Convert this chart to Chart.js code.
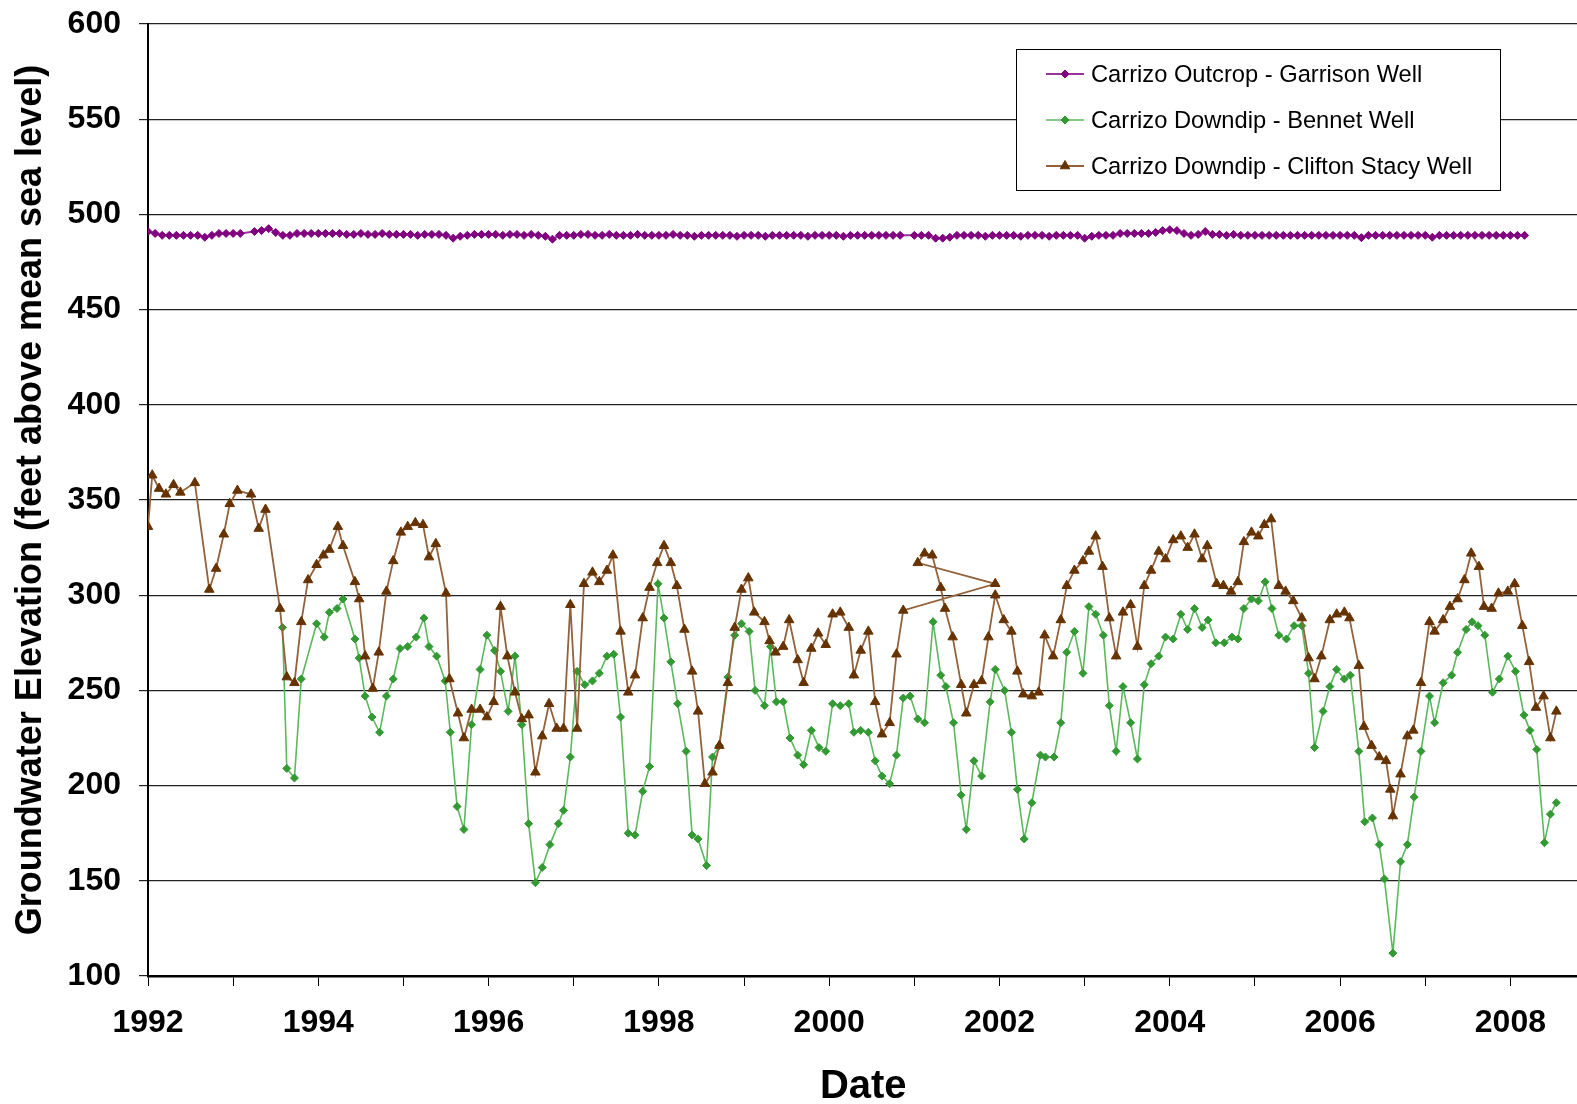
<!DOCTYPE html>
<html>
<head>
<meta charset="utf-8">
<script src="https://cdn.jsdelivr.net/npm/chart.js@4.4.0/dist/chart.umd.min.js"></script>
<style>
  html, body { margin: 0; padding: 0; background: #fff; overflow: hidden; }
  #wrap { width: 1585px; height: 1104px; position: relative; }
  canvas { display: block; }
</style>
</head>
<body>
<div id="wrap"><canvas id="chart"></canvas></div>
<script>
// Carrizo Outcrop - Garrison Well: monthly readings from Jan 1992 (null = missing month)
const garrisonStart = 1992;
const garrisonLevels = [
  491, 490, 489, 489, 489, 489, 489, 489, 488, 489, 490, 490,
  490, 490, null, 491, 491.5, 492.5, 490.5, 489, 489, 490, 490, 490,
  490, 490, 490, 490, 489.5, 489.5, 490, 489.5, 489.5, 490, 489.5, 489.5,
  489.5, 489.5, 489, 489.5, 489.5, 489.5, 489, 487.5, 488.5, 489, 489.5, 489.5,
  489.5, 489.5, 489, 489.5, 489.5, 489, 489.5, 489, 488.5, 487, 489, 489,
  489, 489.5, 489.5, 489, 489, 489.5, 489, 489, 489, 489.5, 489, 489,
  489, 489, 489.5, 489, 489, 488.5, 489, 489, 489, 489, 489, 488.5,
  489, 489, 489, 488.5, 489, 489, 489, 489, 489, 488.5, 489, 489,
  489, 489, 488.5, 489, 489, 489, 489, 489, 489, 489, 489, null,
  489, 489, 489, 487.5, 487.5, 488, 489, 489, 489, 489, 488.5, 489,
  489, 489, 489, 488.5, 489, 489, 489, 488.5, 489, 489, 489, 489,
  487.5, 488.5, 489, 489, 489, 490, 490, 490, 490, 490, 490.5, 491.5,
  492, 491.5, 490, 489, 489.5, 491, 489.5, 489.5, 489, 489.5, 489, 489,
  489, 489, 489, 489, 489, 489, 489, 489, 489, 489, 489, 489,
  489, 489, 489, 487.8, 489, 489, 489, 489, 489, 489, 489, 489,
  489, 488, 489, 489, 489, 489, 489, 489, 489, 489, 489, 489,
  489, 489, 489
];

// Carrizo Downdip - Bennet Well
const bennetDates = [
  1993.58, 1993.63, 1993.72, 1993.80, 1993.98, 1994.07, 1994.13, 1994.22, 1994.29, 1994.43,
  1994.48, 1994.55, 1994.63, 1994.72, 1994.80, 1994.88, 1994.96, 1995.05, 1995.15, 1995.24,
  1995.30, 1995.39, 1995.49, 1995.55, 1995.63, 1995.71, 1995.80, 1995.90, 1995.98, 1996.07,
  1996.14, 1996.23, 1996.31, 1996.39, 1996.47, 1996.55, 1996.63, 1996.72, 1996.82, 1996.88,
  1996.96, 1997.04, 1997.13, 1997.22, 1997.30, 1997.39, 1997.47, 1997.55, 1997.64, 1997.72,
  1997.81, 1997.89, 1997.99, 1998.06, 1998.14, 1998.22, 1998.32, 1998.39, 1998.46, 1998.56,
  1998.63, 1998.71, 1998.81, 1998.89, 1998.97, 1999.06, 1999.13, 1999.24, 1999.31, 1999.38,
  1999.46, 1999.54, 1999.63, 1999.70, 1999.79, 1999.88, 1999.96, 2000.04, 2000.13, 2000.23,
  2000.29, 2000.37, 2000.46, 2000.54, 2000.62, 2000.71, 2000.79, 2000.87, 2000.95, 2001.04,
  2001.12, 2001.22, 2001.31, 2001.37, 2001.46, 2001.55, 2001.61, 2001.70, 2001.79, 2001.89,
  2001.95, 2002.06, 2002.14, 2002.21, 2002.29, 2002.38, 2002.48, 2002.54, 2002.64, 2002.72,
  2002.79, 2002.88, 2002.98, 2003.05, 2003.13, 2003.22, 2003.29, 2003.37, 2003.45, 2003.54,
  2003.62, 2003.70, 2003.78, 2003.87, 2003.95, 2004.04, 2004.13, 2004.21, 2004.29, 2004.38,
  2004.45, 2004.54, 2004.64, 2004.73, 2004.80, 2004.87, 2004.96, 2005.04, 2005.12, 2005.20,
  2005.28, 2005.37, 2005.46, 2005.55, 2005.63, 2005.70, 2005.80, 2005.88, 2005.96, 2006.05,
  2006.12, 2006.22, 2006.29, 2006.38, 2006.46, 2006.52, 2006.62, 2006.71, 2006.79, 2006.87,
  2006.95, 2007.05, 2007.11, 2007.21, 2007.31, 2007.38, 2007.48, 2007.55, 2007.62, 2007.70,
  2007.79, 2007.87, 2007.97, 2008.06, 2008.16, 2008.23, 2008.31, 2008.40, 2008.47, 2008.54
];
const bennetLevels = [
  283, 209, 204, 256, 285, 278, 291, 293, 298, 277,
  267, 247, 236, 228, 247, 256, 272, 273, 278, 288,
  273, 268, 255, 228, 189, 177, 232, 261, 279, 271,
  260, 239, 268, 232, 180, 149, 157, 169, 180, 187,
  215, 260, 253, 255, 259, 268, 269, 236, 175, 174,
  197, 210, 306, 288, 265, 243, 218, 174, 172, 158,
  215, 221, 257, 279, 285, 281, 250, 242, 273, 244,
  244, 225, 216, 211, 229, 220, 218, 243, 242, 243,
  228, 229, 228, 213, 205, 201, 216, 246, 247, 235,
  233, 286, 258, 252, 233, 195, 177, 213, 205, 244,
  261, 250, 228, 198, 172, 191, 216, 215, 215, 233,
  270, 281, 259, 294, 290, 279, 242, 218, 252, 233,
  214, 253, 264, 268, 278, 277, 290, 282, 293, 283,
  287, 275, 275, 278, 277, 293, 298, 297, 307, 293,
  279, 277, 284, 284, 259, 220, 239, 252, 261, 256,
  258, 218, 181, 183, 169, 151, 112, 160, 169, 194,
  218, 247, 233, 254, 258, 270, 282, 286, 284, 279,
  249, 256, 268, 260, 237, 229, 219, 170, 185, 191
];

// Carrizo Downdip - Clifton Stacy Well (the 2001.95 reading sits out of order in the record)
const cliftonDates = [
  1992.00, 1992.05, 1992.13, 1992.21, 1992.30, 1992.38, 1992.55, 1992.72, 1992.80, 1992.89,
  1992.96, 1993.05, 1993.21, 1993.30, 1993.38, 1993.55, 1993.63, 1993.72, 1993.80, 1993.88,
  1993.98, 1994.06, 1994.13, 1994.23, 1994.29, 1994.43, 1994.48, 1994.55, 1994.64, 1994.71,
  1994.80, 1994.88, 1994.97, 1995.05, 1995.14, 1995.23, 1995.30, 1995.38, 1995.50, 1995.54,
  1995.64, 1995.71, 1995.80, 1995.90, 1995.98, 1996.06, 1996.14, 1996.22, 1996.31, 1996.39,
  1996.47, 1996.55, 1996.63, 1996.71, 1996.80, 1996.88, 1996.96, 1997.04, 1997.12, 1997.22,
  1997.30, 1997.39, 1997.46, 1997.55, 1997.64, 1997.72, 1997.81, 1997.89, 1997.98, 1998.06,
  1998.14, 1998.21, 1998.30, 1998.39, 1998.46, 1998.54, 1998.63, 1998.71, 1998.81, 1998.89,
  1998.97, 1999.05, 1999.12, 1999.24, 1999.30, 1999.37, 1999.46, 1999.53, 1999.63, 1999.70,
  1999.79, 1999.87, 1999.96, 2000.04, 2000.13, 2000.23, 2000.29, 2000.37, 2000.46, 2000.54,
  2000.62, 2000.71, 2000.79, 2000.87, 2001.95, 2001.04, 2001.12, 2001.21, 2001.31, 2001.36,
  2001.45, 2001.55, 2001.61, 2001.70, 2001.79, 2001.87, 2001.95, 2002.05, 2002.14, 2002.21,
  2002.28, 2002.38, 2002.46, 2002.53, 2002.63, 2002.72, 2002.79, 2002.88, 2002.98, 2003.05,
  2003.13, 2003.21, 2003.29, 2003.37, 2003.45, 2003.54, 2003.62, 2003.70, 2003.78, 2003.87,
  2003.95, 2004.04, 2004.13, 2004.21, 2004.29, 2004.38, 2004.44, 2004.55, 2004.63, 2004.72,
  2004.80, 2004.87, 2004.96, 2005.04, 2005.11, 2005.19, 2005.28, 2005.36, 2005.45, 2005.55,
  2005.63, 2005.70, 2005.78, 2005.88, 2005.96, 2006.05, 2006.11, 2006.22, 2006.28, 2006.37,
  2006.46, 2006.54, 2006.59, 2006.62, 2006.71, 2006.79, 2006.86, 2006.95, 2007.05, 2007.11,
  2007.21, 2007.29, 2007.38, 2007.46, 2007.54, 2007.63, 2007.69, 2007.78, 2007.86, 2007.97,
  2008.05, 2008.14, 2008.22, 2008.30, 2008.39, 2008.47, 2008.54
];
const cliftonLevels = [
  336, 363, 356, 353, 358, 354, 359, 303, 314, 332,
  348, 355, 353, 335, 345, 293, 257, 254, 286, 308,
  316, 321, 324, 336, 326, 307, 298, 268, 251, 270,
  302, 318, 333, 336, 338, 337, 320, 327, 301, 256,
  238, 225, 240, 240, 236, 244, 294, 268, 249, 235,
  237, 207, 226, 243, 230, 230, 295, 230, 306, 312,
  307, 313, 321, 281, 249, 258, 288, 304, 317, 326,
  317, 305, 282, 260, 239, 201, 207, 221, 254, 283,
  303, 309, 291, 286, 276, 270, 273, 287, 266, 254,
  272, 280, 274, 290, 291, 283, 258, 271, 281, 244,
  227, 233, 269, 292, 306, 317, 322, 321, 304, 293,
  278, 253, 238, 253, 255, 278, 300, 287, 281, 260,
  248, 247, 249, 279, 268, 287, 305, 313, 318, 323,
  331, 315, 288, 268, 291, 295, 273, 305, 313, 323,
  319, 329, 331, 325, 332, 319, 326, 306, 305, 302,
  307, 328, 333, 331, 337, 340, 305, 302, 297, 288,
  267, 256, 268, 287, 290, 291, 288, 263, 231, 221,
  215, 213, 198, 184, 206, 226, 229, 254, 286, 281,
  287, 294, 298, 308, 322, 315, 294, 293, 301, 302,
  306, 284, 265, 241, 247, 225, 239
];

const seriesLabels = [
  'Carrizo Outcrop - Garrison Well',
  'Carrizo Downdip - Bennet Well',
  'Carrizo Downdip - Clifton Stacy Well'
];

const yearTicks = { min: 1992, max: 2008.8, step: 1 };
const levelTicks = { min: 100, max: 600, step: 50 };

const FONT = '"Liberation Sans", Arial, Helvetica, sans-serif';

const pairs = (xs, ys) => xs.map((x, i) => ({ x: x, y: ys[i] }));
const garrisonData = garrisonLevels.map((v, i) => ({ x: garrisonStart + i / 12, y: v }));

const legendBox = {
  id: 'legendBox',
  afterDraw(chart) {
    const ctx = chart.ctx;
    ctx.save();
    ctx.fillStyle = '#fff';
    ctx.fillRect(1016, 49, 484, 141);
    ctx.strokeStyle = '#000';
    ctx.lineWidth = 1;
    ctx.strokeRect(1016.5, 49.5, 484, 141);
    const rows = [74, 120, 166];
    chart.data.datasets.forEach((ds, i) => {
      const y = rows[i];
      ctx.strokeStyle = ds.borderColor;
      ctx.lineWidth = ds.borderWidth;
      ctx.beginPath();
      ctx.moveTo(1046, y);
      ctx.lineTo(1084, y);
      ctx.stroke();
      ctx.fillStyle = ds.pointBackgroundColor;
      ctx.strokeStyle = ds.pointBorderColor;
      ctx.lineWidth = 1;
      Chart.helpers.drawPoint(ctx, {
        pointStyle: ds.pointStyle, radius: ds.pointRadius, rotation: 0, borderWidth: 1
      }, 1065, y);
      ctx.fillStyle = '#000';
      ctx.font = '23.7px ' + FONT;
      ctx.textBaseline = 'middle';
      ctx.textAlign = 'left';
      ctx.fillText(ds.label, 1091, y + 1);
    });
    ctx.restore();
  }
};

new Chart(document.getElementById('chart'), {
  type: 'line',
  data: {
    datasets: [
      {
        label: seriesLabels[0],
        data: garrisonData,
        order: 3,
        spanGaps: true,
        borderColor: '#993399',
        borderWidth: 2,
        pointStyle: 'rectRot',
        pointRadius: 4,
        pointBackgroundColor: '#800080',
        pointBorderColor: '#800080',
        pointBorderWidth: 1
      },
      {
        label: seriesLabels[1],
        data: pairs(bennetDates, bennetLevels),
        order: 2,
        borderColor: '#5cb85c',
        borderWidth: 1.6,
        pointStyle: 'rectRot',
        pointRadius: 4,
        pointBackgroundColor: '#339933',
        pointBorderColor: '#339933',
        pointBorderWidth: 1
      },
      {
        label: seriesLabels[2],
        data: pairs(cliftonDates, cliftonLevels),
        order: 1,
        borderColor: '#93613a',
        borderWidth: 1.8,
        pointStyle: 'triangle',
        pointRadius: 5.5,
        pointBackgroundColor: '#663300',
        pointBorderColor: '#663300',
        pointBorderWidth: 1
      }
    ]
  },
  options: {
    responsive: true,
    maintainAspectRatio: false,
    animation: false,
    devicePixelRatio: 1,
    events: [],
    layout: { padding: { top: 24, left: 0, right: 0, bottom: 0 } },
    elements: { line: { tension: 0 } },
    plugins: {
      legend: { display: false },
      tooltip: { enabled: false }
    },
    scales: {
      x: {
        type: 'linear',
        min: yearTicks.min,
        max: yearTicks.max,
        afterFit: s => { s.height = 128; s.paddingLeft = 0; s.paddingRight = 0; },
        border: { display: true, color: '#000', width: 2.5 },
        grid: { drawOnChartArea: false, drawTicks: true, tickLength: 10, color: '#000', lineWidth: 1 },
        ticks: {
          stepSize: yearTicks.step,
          includeBounds: false,
          autoSkip: false,
          maxRotation: 0,
          padding: 18,
          color: '#000',
          font: { family: FONT, size: 32, weight: 'bold' },
          callback: v => (v % 2 === 0 ? String(v) : '')
        },
        title: {
          display: true,
          text: 'Date',
          color: '#000',
          font: { family: FONT, size: 40, weight: 'bold', lineHeight: 0.85 },
          padding: { top: 0, bottom: 0 }
        }
      },
      y: {
        min: levelTicks.min,
        max: levelTicks.max,
        afterFit: s => { s.width = 148; s.paddingTop = 0; s.paddingBottom = 0; },
        border: { display: true, color: '#000', width: 2 },
        grid: { color: '#222', lineWidth: 1.2, tickLength: 9 },
        ticks: {
          stepSize: levelTicks.step,
          padding: 18,
          color: '#000',
          font: { family: FONT, size: 32, weight: 'bold' }
        },
        title: {
          display: true,
          text: 'Groundwater Elevation (feet above mean sea level)',
          color: '#000',
          font: { family: FONT, size: 36, weight: 'bold' },
          padding: { top: 9, bottom: 0 }
        }
      }
    }
  },
  plugins: [legendBox]
});
</script>
</body>
</html>
